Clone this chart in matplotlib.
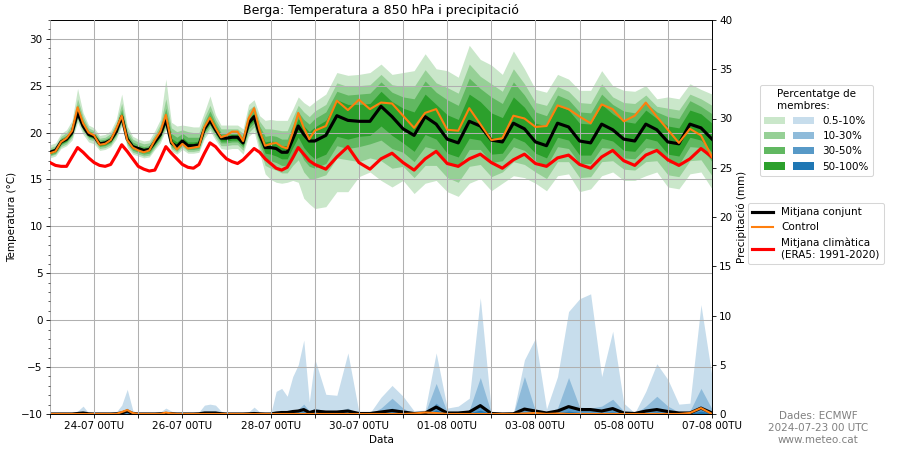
import numpy as np
import matplotlib
matplotlib.use('Agg')
import matplotlib.pyplot as plt
from matplotlib.colors import to_rgb
from matplotlib.patches import Patch
from matplotlib.lines import Line2D
from matplotlib.legend_handler import HandlerTuple
from matplotlib.ticker import MultipleLocator

# hores des de 2024-07-23 00 UTC (cada 3h fins a 144h, despres cada 6h)
hours = list(range(0, 144, 3)) + list(range(144, 361, 6))

tick_hours = [24, 72, 120, 168, 216, 264, 312, 360]
tick_labels = ['24-07 00TU', '26-07 00TU', '28-07 00TU', '30-07 00TU',
               '01-08 00TU', '03-08 00TU', '05-08 00TU', '07-08 00TU']

# temperatura a 850 hPa (C)
t_mean = [17.9, 18.1, 19.0, 19.3, 20.0, 22.1, 20.7, 19.8,
          19.6, 18.8, 18.9, 19.2, 20.1, 21.7, 19.3, 18.5,
          18.3, 18.1, 18.2, 19.0, 19.8, 21.4, 18.9, 18.5,
          19.1, 18.6, 18.6, 18.7, 20.4, 21.3, 20.3, 19.4,
          19.4, 19.5, 19.5, 18.9, 21.0, 21.7, 19.8, 18.4,
          18.4, 18.3, 17.9, 17.9, 19.3, 20.7, 19.8, 19.1,
          19.1, 19.7, 21.8, 21.3, 21.2, 21.2, 22.8, 21.7, 20.4, 19.7,
          21.7, 20.9, 19.3, 18.9, 21.2, 20.7, 19.2, 19.0, 21.0, 20.4,
          19.0, 18.6, 21.0, 20.6, 19.1, 18.9, 20.9, 20.3, 19.3, 19.1,
          20.9, 20.3, 19.0, 18.8, 20.9, 20.5, 19.3]

t_ctrl = [17.8, 18.0, 19.0, 19.4, 20.2, 22.7, 21.0, 20.0,
          19.7, 18.7, 18.8, 19.2, 20.4, 21.8, 19.2, 18.4,
          18.1, 17.9, 18.1, 19.2, 20.1, 21.9, 19.0, 18.2,
          18.8, 18.3, 18.4, 18.5, 20.6, 21.6, 20.5, 19.5,
          19.7, 20.1, 20.1, 19.1, 21.5, 22.6, 20.2, 18.6,
          18.8, 18.9, 18.5, 18.3, 20.0, 22.1, 20.5, 19.3,
          20.2, 20.7, 23.4, 22.4, 23.5, 22.5, 23.2, 23.1, 21.8, 20.5,
          22.1, 22.5, 20.3, 20.2, 22.6, 20.9, 19.2, 19.4, 21.8, 21.5,
          20.6, 20.7, 22.9, 22.5, 21.7, 21.0, 23.0, 22.5, 21.2, 21.8,
          23.2, 21.7, 20.3, 18.9, 20.4, 19.7, 17.4]

t_clim = [16.8, 16.5, 16.4, 16.4, 17.4, 18.4, 17.9, 17.3,
          16.8, 16.5, 16.4, 16.6, 17.6, 18.7, 18.0, 17.2,
          16.4, 16.1, 15.9, 16.0, 17.2, 18.5, 17.8, 17.2,
          16.6, 16.3, 16.2, 16.6, 17.8, 18.9, 18.5, 17.8,
          17.2, 16.9, 16.7, 17.1, 17.7, 18.3, 17.9, 17.2,
          16.7, 16.2, 16.0, 16.3, 17.3, 18.4, 17.7, 17.0,
          16.6, 16.1, 17.4, 18.5, 16.8, 16.1, 17.2, 17.8, 16.8, 16.0,
          17.2, 18.0, 16.7, 16.4, 17.2, 17.7, 16.8, 16.2, 17.1, 17.7,
          16.7, 16.4, 17.3, 17.6, 16.6, 16.2, 17.4, 18.1, 17.0, 16.5,
          17.6, 18.1, 17.1, 16.5, 17.2, 18.3, 17.4]

# amplada de les bandes per sobre / per sota de la mitjana (0.5-10%, 10-30%, 30-50%, 50-100%)
t_up1 = [0.8, 0.8, 0.9, 1.0, 1.3, 2.6, 1.4, 1.0,
         0.9, 0.9, 0.9, 1.0, 1.3, 2.4, 1.4, 1.1,
         1.0, 1.0, 1.0, 1.2, 1.6, 4.3, 2.2, 2.2,
         1.7, 2.1, 2.0, 1.9, 1.8, 2.6, 1.6, 1.4,
         1.4, 1.3, 1.3, 1.5, 2.0, 1.8, 2.0, 2.9,
         3.0, 3.0, 3.4, 3.4, 3.2, 3.1, 3.4, 3.7,
         4.2, 4.4, 4.6, 4.8, 5.0, 5.2, 4.5, 4.5, 6.0, 6.9,
         6.7, 5.9, 7.3, 7.0, 8.1, 7.1, 8.0, 7.2, 7.7, 6.4,
         5.6, 5.7, 5.2, 5.1, 5.4, 5.6, 5.7, 4.7, 5.2, 5.3,
         4.1, 3.3, 4.8, 4.8, 4.3, 4.1, 4.8]
t_up2 = [0.5, 0.5, 0.6, 0.7, 0.9, 1.5, 1.0, 0.7,
         0.6, 0.6, 0.6, 0.7, 0.9, 1.4, 1.0, 0.8,
         0.7, 0.7, 0.7, 0.8, 1.1, 2.2, 1.6, 1.6,
         1.2, 1.5, 1.4, 1.3, 1.2, 1.6, 1.1, 1.0,
         1.0, 0.9, 0.9, 1.0, 1.4, 1.2, 1.4, 2.0,
         2.0, 2.0, 2.3, 2.3, 2.3, 2.2, 2.4, 2.6,
         3.2, 3.3, 3.5, 3.6, 3.8, 3.9, 3.4, 3.4, 4.5, 5.2,
         5.0, 4.4, 5.5, 5.3, 6.1, 5.3, 6.0, 5.4, 5.8, 4.8,
         4.2, 4.3, 3.9, 3.8, 4.1, 4.2, 4.3, 3.5, 3.9, 4.0,
         3.1, 2.5, 3.6, 3.6, 3.2, 3.1, 3.6]
t_up3 = [0.3, 0.3, 0.4, 0.4, 0.5, 0.9, 0.6, 0.4,
         0.4, 0.4, 0.4, 0.4, 0.5, 0.8, 0.6, 0.5,
         0.4, 0.4, 0.4, 0.5, 0.7, 1.2, 1.0, 1.0,
         0.8, 0.9, 0.9, 0.8, 0.7, 1.0, 0.7, 0.6,
         0.6, 0.6, 0.6, 0.6, 0.8, 0.8, 0.9, 1.2,
         1.3, 1.3, 1.4, 1.4, 1.5, 1.5, 1.6, 1.8,
         2.4, 2.5, 2.6, 2.7, 2.9, 3.0, 2.6, 2.6, 3.4, 3.9,
         3.8, 3.4, 4.2, 4.0, 4.6, 4.0, 4.6, 4.1, 4.4, 3.6,
         3.2, 3.2, 3.0, 2.9, 3.1, 3.2, 3.2, 2.7, 3.0, 3.0,
         2.3, 1.9, 2.7, 2.7, 2.5, 2.3, 2.7]
t_up4 = [0.2, 0.2, 0.2, 0.2, 0.3, 0.5, 0.3, 0.2,
         0.2, 0.2, 0.2, 0.2, 0.3, 0.4, 0.3, 0.2,
         0.2, 0.2, 0.2, 0.3, 0.3, 0.5, 0.5, 0.5,
         0.4, 0.4, 0.4, 0.4, 0.4, 0.5, 0.4, 0.3,
         0.3, 0.3, 0.3, 0.3, 0.4, 0.4, 0.5, 0.6,
         0.7, 0.7, 0.7, 0.7, 0.8, 0.8, 0.9, 1.0,
         1.5, 1.6, 1.7, 1.7, 1.8, 1.9, 1.6, 1.6, 2.2, 2.5,
         2.4, 2.1, 2.6, 2.5, 2.9, 2.6, 2.9, 2.6, 2.8, 2.3,
         2.0, 2.1, 1.9, 1.8, 1.9, 2.0, 2.1, 1.7, 1.9, 1.9,
         1.5, 1.2, 1.7, 1.7, 1.5, 1.5, 1.7]

t_dn1 = [0.6, 0.6, 0.7, 0.7, 0.8, 1.0, 0.9, 0.8,
         0.8, 0.7, 0.7, 0.7, 0.8, 1.0, 0.9, 0.8,
         0.8, 0.8, 0.8, 0.8, 0.9, 1.1, 0.9, 0.8,
         0.9, 0.8, 0.8, 0.8, 1.0, 1.1, 1.1, 1.1,
         1.2, 1.2, 1.2, 1.2, 1.4, 1.6, 2.0, 2.8,
         3.4, 3.6, 3.3, 3.2, 4.4, 6.0, 6.8, 6.7,
         7.2, 7.6, 8.1, 7.6, 5.9, 5.4, 7.9, 7.5, 5.5, 6.2,
         7.1, 6.0, 5.6, 5.7, 6.6, 5.6, 5.4, 4.4, 5.6, 5.2,
         4.4, 4.8, 5.6, 5.0, 5.4, 4.9, 5.5, 4.5, 4.4, 4.2,
         5.5, 4.5, 4.8, 4.8, 5.3, 4.7, 5.3]
t_dn2 = [0.4, 0.4, 0.5, 0.5, 0.5, 0.7, 0.6, 0.5,
         0.5, 0.5, 0.5, 0.5, 0.5, 0.7, 0.6, 0.6,
         0.6, 0.6, 0.6, 0.6, 0.6, 0.8, 0.6, 0.6,
         0.6, 0.6, 0.6, 0.6, 0.7, 0.8, 0.8, 0.8,
         0.8, 0.8, 0.8, 0.8, 1.0, 1.1, 1.4, 1.9,
         2.2, 2.3, 2.2, 2.2, 2.8, 3.6, 4.0, 4.0,
         4.0, 4.2, 4.5, 4.2, 4.3, 3.9, 5.8, 5.5, 4.0, 4.5,
         5.2, 4.4, 4.1, 4.2, 4.8, 4.1, 3.9, 3.2, 4.1, 3.8,
         3.2, 3.5, 4.1, 3.7, 3.9, 3.6, 4.0, 3.3, 3.2, 3.1,
         4.0, 3.3, 3.5, 3.5, 3.9, 3.4, 3.9]
t_dn3 = [0.3, 0.3, 0.3, 0.3, 0.3, 0.4, 0.4, 0.3,
         0.3, 0.3, 0.3, 0.3, 0.3, 0.4, 0.4, 0.4,
         0.4, 0.4, 0.4, 0.4, 0.4, 0.5, 0.4, 0.4,
         0.4, 0.4, 0.4, 0.4, 0.4, 0.5, 0.5, 0.5,
         0.5, 0.5, 0.5, 0.5, 0.6, 0.7, 0.9, 1.2,
         1.4, 1.5, 1.4, 1.4, 1.8, 2.4, 2.7, 2.7,
         2.9, 3.0, 3.2, 3.0, 2.7, 2.4, 3.6, 3.4, 2.5, 2.8,
         3.2, 2.7, 2.5, 2.6, 3.0, 2.5, 2.4, 2.0, 2.5, 2.3,
         2.0, 2.2, 2.5, 2.3, 2.4, 2.2, 2.5, 2.0, 2.0, 1.9,
         2.5, 2.0, 2.2, 2.2, 2.4, 2.1, 2.4]
t_dn4 = [0.1, 0.1, 0.2, 0.2, 0.2, 0.2, 0.2, 0.2,
         0.2, 0.2, 0.2, 0.2, 0.2, 0.2, 0.2, 0.2,
         0.2, 0.2, 0.2, 0.2, 0.2, 0.3, 0.2, 0.2,
         0.2, 0.2, 0.2, 0.2, 0.2, 0.3, 0.3, 0.3,
         0.3, 0.3, 0.3, 0.3, 0.3, 0.4, 0.5, 0.6,
         0.7, 0.8, 0.7, 0.7, 0.9, 1.2, 1.4, 1.4,
         1.9, 2.0, 2.2, 2.0, 1.6, 1.5, 2.1, 2.0, 1.5, 1.7,
         1.9, 1.6, 1.5, 1.5, 1.8, 1.5, 1.5, 1.2, 1.5, 1.4,
         1.2, 1.3, 1.5, 1.4, 1.5, 1.3, 1.5, 1.2, 1.2, 1.1,
         1.5, 1.2, 1.3, 1.3, 1.4, 1.3, 1.4]

# precipitacio (mm): sostre de cada banda, mitjana i control
p_top1 = [0, 0, 0, 0, 0, 0.3, 0.8, 0.1,
          0, 0, 0, 0, 0.2, 0.9, 2.5, 0.4,
          0, 0, 0, 0, 0.2, 0.6, 0.3, 0,
          0, 0, 0, 0.2, 0.9, 1.0, 0.9, 0.3,
          0, 0, 0, 0, 0.2, 0.7, 0.2, 0,
          0, 2.3, 2.6, 1.8, 3.8, 5.0, 7.5, 1.2,
          5.6, 2.0, 1.9, 6.2, 0.2, 0.1, 1.7, 2.9, 1.8, 0.3,
          0.4, 6.2, 0.6, 0.8, 1.6, 11.8, 0.3, 0.1, 0.1, 5.5,
          7.7, 0.5, 3.8, 10.4, 11.7, 12.2, 3.8, 8.4, 1.1, 0.1,
          2.3, 5.1, 3.5, 1.0, 1.1, 11.1, 3.8]
p_top2 = [0, 0, 0, 0, 0, 0.1, 0.2, 0,
          0, 0, 0, 0, 0.1, 0.3, 0.6, 0.1,
          0, 0, 0, 0, 0, 0.1, 0.1, 0,
          0, 0, 0, 0, 0.3, 0.3, 0.3, 0.1,
          0, 0, 0, 0, 0, 0.1, 0, 0,
          0, 0.2, 0.3, 0.3, 0.4, 0.5, 1.0, 0.3,
          0.6, 0.3, 0.3, 0.6, 0, 0, 0.6, 1.6, 0.6, 0,
          0.1, 3.1, 0.2, 0.2, 0.4, 3.7, 0.1, 0, 0, 3.8,
          0.3, 0.1, 0.6, 3.7, 0.7, 0.6, 0.8, 1.5, 0.3, 0,
          0.8, 1.8, 0.8, 0.2, 0.3, 2.6, 0.5]
p_top3 = [0, 0, 0, 0, 0, 0.05, 0.1, 0,
          0, 0, 0, 0, 0, 0.1, 0.3, 0.05,
          0, 0, 0, 0, 0, 0.05, 0, 0,
          0, 0, 0, 0, 0.1, 0.1, 0.1, 0,
          0, 0, 0, 0, 0, 0.05, 0, 0,
          0, 0.1, 0.15, 0.15, 0.2, 0.25, 0.4, 0.15,
          0.3, 0.15, 0.15, 0.3, 0, 0, 0.2, 0.6, 0.3, 0,
          0.05, 1.1, 0.1, 0.1, 0.2, 1.0, 0.05, 0, 0, 0.6,
          0.15, 0.05, 0.25, 0.8, 0.4, 0.35, 0.4, 0.5, 0.1, 0,
          0.3, 0.6, 0.3, 0.1, 0.1, 0.7, 0.2]
p_top4 = [0, 0, 0, 0, 0, 0, 0, 0,
          0, 0, 0, 0, 0, 0, 0.1, 0,
          0, 0, 0, 0, 0, 0, 0, 0,
          0, 0, 0, 0, 0, 0, 0, 0,
          0, 0, 0, 0, 0, 0, 0, 0,
          0, 0, 0, 0, 0, 0.1, 0.2, 0,
          0.1, 0.05, 0.05, 0.1, 0, 0, 0.05, 0.2, 0.1, 0,
          0, 0.4, 0.05, 0.05, 0.1, 0.4, 0, 0, 0, 0.2,
          0.05, 0, 0.1, 0.3, 0.15, 0.15, 0.15, 0.2, 0.05, 0,
          0.1, 0.2, 0.1, 0.05, 0.05, 0.3, 0.05]
p_mean = [0, 0, 0, 0, 0, 0.05, 0.1, 0.02,
          0, 0, 0, 0, 0.02, 0.1, 0.3, 0.05,
          0, 0, 0, 0, 0.02, 0.05, 0.03, 0,
          0, 0, 0, 0.02, 0.1, 0.1, 0.1, 0.03,
          0, 0, 0, 0, 0.02, 0.05, 0.02, 0,
          0, 0.1, 0.15, 0.15, 0.25, 0.3, 0.45, 0.15,
          0.3, 0.2, 0.2, 0.3, 0.05, 0.05, 0.2, 0.35, 0.2, 0.05,
          0.1, 0.7, 0.1, 0.1, 0.2, 0.85, 0.05, 0.0, 0.02, 0.5,
          0.3, 0.1, 0.3, 0.75, 0.45, 0.45, 0.3, 0.55, 0.1, 0.05,
          0.3, 0.45, 0.25, 0.1, 0.1, 0.6, 0.1]
p_ctrl = [0, 0, 0, 0, 0, 0, 0, 0,
          0, 0, 0, 0, 0, 0.2, 0.4, 0.1,
          0, 0, 0, 0, 0, 0.15, 0.05, 0,
          0, 0, 0, 0, 0, 0, 0, 0,
          0, 0, 0, 0, 0, 0, 0, 0,
          0, 0, 0, 0, 0, 0, 0, 0,
          0, 0, 0, 0, 0, 0, 0, 0, 0, 0.05,
          0.15, 0.1, 0, 0, 0, 0, 0, 0, 0, 0.05,
          0.1, 0, 0.05, 0, 0, 0, 0, 0, 0, 0,
          0, 0, 0, 0, 0.1, 0.6, 0]

band_labels = ['0.5-10%', '10-30%', '30-50%', '50-100%']


def blend(color, a):
    # color opac equivalent a color amb transparencia sobre blanc
    r, g, b = to_rgb(color)
    return (1 - a * (1 - r), 1 - a * (1 - g), 1 - a * (1 - b))


greens = [blend('tab:green', a) for a in (0.25, 0.5, 0.75, 1.0)]
blues = [blend('tab:blue', a) for a in (0.25, 0.5, 0.75, 1.0)]

h = np.array(hours)
mean = np.array(t_mean)
ups = [np.array(u) for u in (t_up1, t_up2, t_up3, t_up4)]
dns = [np.array(d) for d in (t_dn1, t_dn2, t_dn3, t_dn4)]
p_tops = [p_top1, p_top2, p_top3, p_top4]

fig = plt.figure(figsize=(12, 6), dpi=75)
ax = fig.add_axes([50 / 900, 1 - 414 / 450, 662 / 900, 394 / 450])
ax2 = ax.twinx()
# temperatura per sobre de la precipitacio
ax.set_zorder(ax2.get_zorder() + 1)
ax.patch.set_visible(False)

# precipitacio
for k in range(4):
    ax2.fill_between(h, 0, p_tops[k], color=blues[k], lw=0)
ax2.plot(h, p_mean, color='black', lw=3)
ax2.plot(h, p_ctrl, color='tab:orange', lw=2)

# temperatura
for k in range(4):
    ax.fill_between(h, mean - dns[k], mean + ups[k], color=greens[k], lw=0, zorder=1)
ax.plot(h, t_clim, color='red', lw=3, zorder=3)
ax.plot(h, t_mean, color='black', lw=3, zorder=3)
ax.plot(h, t_ctrl, color='tab:orange', lw=2, zorder=3)

ax.set_axisbelow(False)
ax.grid(True, color='#b0b0b0', lw=1)

ax.set_xlim(0, 360)
ax.set_ylim(-10, 32)
ax2.set_ylim(0, 40)
ax.yaxis.set_major_locator(MultipleLocator(5))
ax.yaxis.set_minor_locator(MultipleLocator(1))
ax2.yaxis.set_major_locator(MultipleLocator(5))

xt = list(range(0, 361, 24))
xl = []
for t in xt:
    if t in tick_hours:
        xl.append(tick_labels[tick_hours.index(t)])
    else:
        xl.append('')
ax.set_xticks(xt)
ax.set_xticklabels(xl)

ax.set_title('Berga: Temperatura a 850 hPa i precipitació')
ax.set_xlabel('Data')
ax.set_ylabel('Temperatura (°C)')
ax2.set_ylabel('Precipitació (mm)')

# llegendes
band_handles = [(Patch(color=greens[k], lw=0), Patch(color=blues[k], lw=0)) for k in range(4)]
leg1 = fig.legend(band_handles, band_labels, title='Percentatge de\nmembres:',
                  handler_map={tuple: HandlerTuple(ndivide=None, pad=0.8)},
                  loc='upper left', bbox_to_anchor=(760 / 900, 1 - 85 / 450),
                  borderaxespad=0, handlelength=4.8)
line_handles = [Line2D([], [], color='black', lw=3),
                Line2D([], [], color='tab:orange', lw=2),
                Line2D([], [], color='red', lw=3)]
leg2 = fig.legend(line_handles, ['Mitjana conjunt', 'Control', 'Mitjana climàtica\n(ERA5: 1991-2020)'],
                  loc='upper left', bbox_to_anchor=(748 / 900, 1 - 203 / 450),
                  borderaxespad=0)

fig.text(818 / 900, 1 - 428 / 450, 'Dades: ECMWF\n2024-07-23 00 UTC\nwww.meteo.cat',
         ha='center', va='center', color='gray')

fig.savefig('out.png', dpi=75)
